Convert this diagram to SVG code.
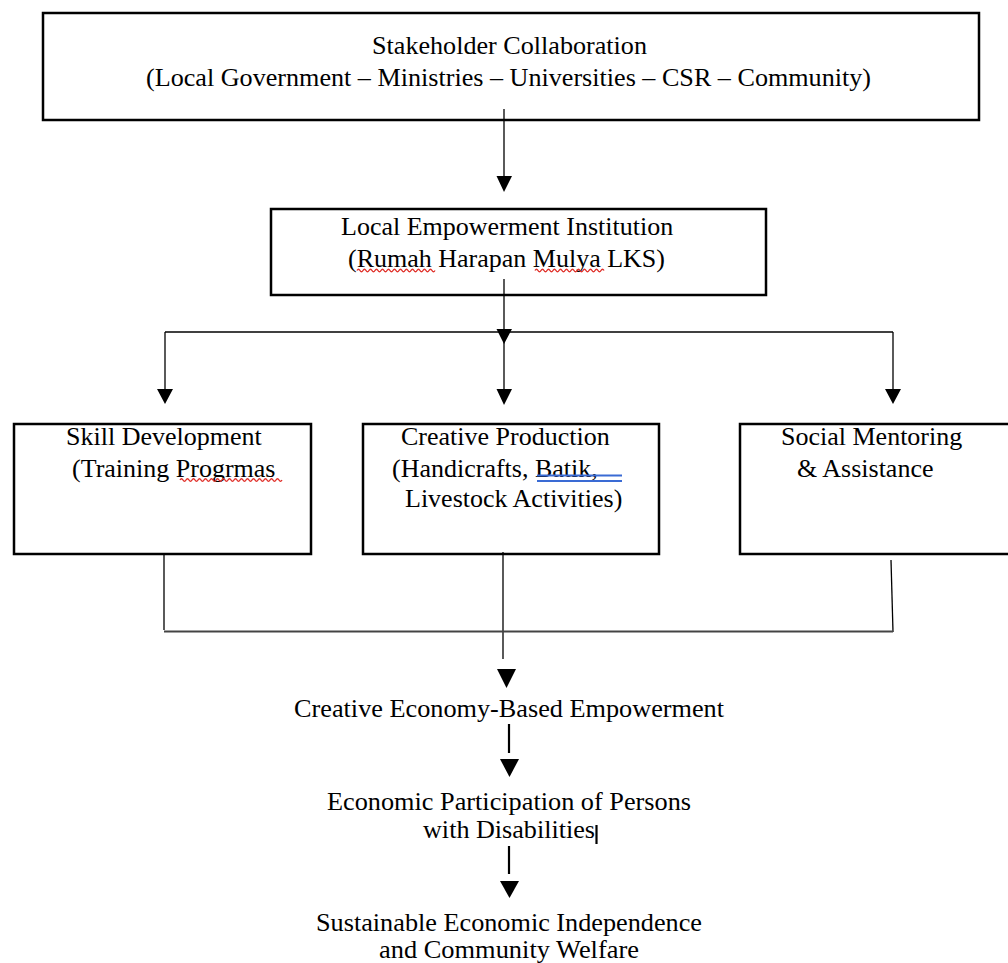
<svg xmlns="http://www.w3.org/2000/svg" width="1008" height="963" viewBox="0 0 1008 963">
<style>
.box{fill:#fff;stroke:#000;stroke-width:2.5}
.t{font-family:"Liberation Serif","Times New Roman",serif;font-size:26px;fill:#000}
.ln{stroke:#000;stroke-width:1.3;fill:none}
.lnb{stroke:#000;stroke-width:2.2;fill:none}
.hd{fill:#000}
.sq{fill:none;stroke:#e0312b;stroke-width:1.4}
</style>
<rect width="1008" height="963" fill="#fff"/>
<g id="stakeholder">
<rect class="box" x="43" y="13" width="936" height="107"/>
<text class="t" x="372" y="54" textLength="275" lengthAdjust="spacingAndGlyphs">Stakeholder Collaboration</text>
<text class="t" x="146" y="86" textLength="725" lengthAdjust="spacingAndGlyphs">(Local Government – Ministries – Universities – CSR – Community)</text>
</g>
<g id="institution">
<rect class="box" x="271" y="209" width="495" height="86"/>
<text class="t" x="341" y="235">Local Empowerment Institution</text>
<text class="t" x="348" y="267">(Rumah Harapan Mulya LKS)</text>
<path class="sq" d="M357,270.5 q1.5,-2.6 3,0 t3,0 t3,0 t3,0 t3,0 t3,0 t3,0 t3,0 t3,0 t3,0 t3,0 t3,0 t3,0 t3,0 t3,0 t3,0 t3,0 t3,0 t3,0 t3,0 t3,0 t3,0 t3,0 t3,0 t3,0 t3,0"/>
<path class="sq" d="M535,270.5 q1.5,-2.6 3,0 t3,0 t3,0 t3,0 t3,0 t3,0 t3,0 t3,0 t3,0 t3,0 t3,0 t3,0 t3,0 t3,0 t3,0 t3,0 t3,0 t3,0 t3,0 t3,0 t3,0 t3,0 t3,0"/>
</g>
<g id="skill">
<rect class="box" x="14" y="424" width="297" height="130"/>
<text class="t" x="66" y="445">Skill Development</text>
<text class="t" x="72" y="477">(Training Progrmas</text>
<path class="sq" d="M180,480 q1.5,-2.6 3,0 t3,0 t3,0 t3,0 t3,0 t3,0 t3,0 t3,0 t3,0 t3,0 t3,0 t3,0 t3,0 t3,0 t3,0 t3,0 t3,0 t3,0 t3,0 t3,0 t3,0 t3,0 t3,0 t3,0 t3,0 t3,0 t3,0 t3,0 t3,0 t3,0 t3,0 t3,0 t3,0 t3,0"/>
</g>
<g id="creative">
<rect class="box" x="363" y="424" width="296" height="130"/>
<text class="t" x="401" y="445">Creative Production</text>
<text class="t" x="392" y="477">(Handicrafts, Batik,</text>
<text class="t" x="405" y="507">Livestock Activities)</text>
<line x1="537" y1="475.5" x2="622" y2="475.5" stroke="#3a6bd4" stroke-width="2"/>
<line x1="537" y1="481" x2="622" y2="481" stroke="#3a6bd4" stroke-width="2"/>
</g>
<g id="mentoring">
<rect class="box" x="740" y="424" width="280" height="130"/>
<text class="t" x="781" y="445">Social Mentoring</text>
<text class="t" x="797" y="477">&amp; Assistance</text>
</g>
<g id="empowerment">
<text class="t" x="294" y="717" textLength="430" lengthAdjust="spacingAndGlyphs">Creative Economy-Based Empowerment</text>
</g>
<g id="participation">
<text class="t" x="327" y="810" textLength="364" lengthAdjust="spacingAndGlyphs">Economic Participation of Persons</text>
<text class="t" x="423" y="838" textLength="172" lengthAdjust="spacingAndGlyphs">with Disabilities</text>
<line x1="596.5" y1="825" x2="596.5" y2="844" stroke="#000" stroke-width="2.2"/>
</g>
<g id="independence">
<text class="t" x="316" y="931" textLength="386" lengthAdjust="spacingAndGlyphs">Sustainable Economic Independence</text>
<text class="t" x="379" y="958" textLength="260" lengthAdjust="spacingAndGlyphs">and Community Welfare</text>
</g>
<g id="connectors">
<line class="ln" x1="504" y1="109" x2="504" y2="178"/>
<polygon class="hd" points="496.5,176 512,176 504,192"/>
<line class="ln" x1="504" y1="279" x2="504" y2="391"/>
<polygon class="hd" points="496.5,329 512,329 504,344"/>
<polygon class="hd" points="496.5,389 512,389 504,405"/>
<line class="ln" x1="165" y1="332" x2="893" y2="332"/>
<line class="ln" x1="165" y1="332" x2="165" y2="391"/>
<polygon class="hd" points="157,389 173,389 165,404"/>
<line class="ln" x1="893" y1="332" x2="893" y2="391"/>
<polygon class="hd" points="885,389 901,389 893,404"/>
<line class="ln" x1="164" y1="553" x2="164" y2="630"/>
<line class="ln" x1="503" y1="552" x2="503" y2="659"/>
<line class="ln" x1="891" y1="560" x2="893" y2="632"/>
<line x1="164" y1="631.5" x2="893" y2="631.5" stroke="#444" stroke-width="2"/>
<polygon class="hd" points="497,669 516,669 506.5,688"/>
<line class="lnb" x1="509" y1="724" x2="509" y2="753"/>
<polygon class="hd" points="500,759 519,759 509.5,777"/>
<line class="lnb" x1="509" y1="846" x2="509" y2="874"/>
<polygon class="hd" points="500,881 519,881 509.5,898"/>
</g>
</svg>
